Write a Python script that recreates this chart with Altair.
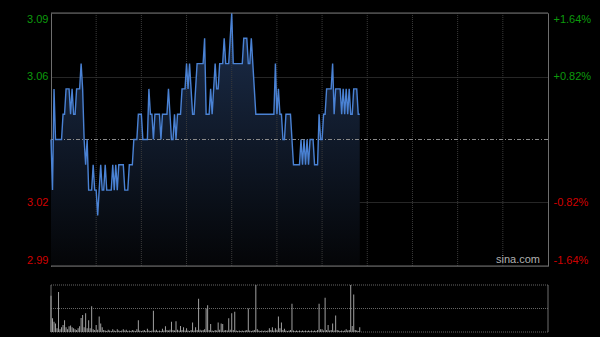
import altair as alt
import pandas as pd

prev_close = 3.04

price = [
    3.04, 3.02, 3.06, 3.04, 3.04, 3.04, 3.04, 3.04, 3.05, 3.05,
    3.06, 3.06, 3.06, 3.05, 3.06, 3.05, 3.05, 3.06, 3.06, 3.06,
    3.07, 3.06, 3.04, 3.03, 3.04, 3.02, 3.02, 3.02, 3.03, 3.02,
    3.02, 3.01, 3.02, 3.03, 3.02, 3.02, 3.03, 3.02, 3.02, 3.02,
    3.02, 3.03, 3.02, 3.03, 3.02, 3.03, 3.03, 3.03, 3.03, 3.02,
    3.02, 3.02, 3.03, 3.03, 3.03, 3.04, 3.04, 3.04, 3.05, 3.05,
    3.05, 3.04, 3.04, 3.04, 3.04, 3.06, 3.05, 3.05, 3.04, 3.05,
    3.05, 3.05, 3.05, 3.04, 3.05, 3.05, 3.05, 3.05, 3.06, 3.05,
    3.04, 3.04, 3.05, 3.04, 3.05, 3.05, 3.05, 3.06, 3.06, 3.06,
    3.07, 3.06, 3.07, 3.06, 3.05, 3.05, 3.06, 3.07, 3.07, 3.07,
    3.07, 3.07, 3.08, 3.05, 3.05, 3.05, 3.06, 3.05, 3.06, 3.07,
    3.06, 3.06, 3.07, 3.07, 3.07, 3.08, 3.07, 3.07, 3.07, 3.08,
    3.09, 3.07, 3.07, 3.07, 3.07, 3.07, 3.07, 3.07, 3.08, 3.08,
    3.08, 3.07, 3.07, 3.08, 3.07, 3.06, 3.05, 3.05, 3.05, 3.05,
    3.05, 3.05, 3.05, 3.05, 3.05, 3.05, 3.05, 3.05, 3.05, 3.07,
    3.05, 3.06, 3.05, 3.05, 3.04, 3.04, 3.05, 3.05, 3.05, 3.05,
    3.04, 3.03, 3.03, 3.03, 3.03, 3.03, 3.04, 3.03, 3.04, 3.03,
    3.04, 3.03, 3.04, 3.04, 3.04, 3.03, 3.03, 3.03, 3.05, 3.04,
    3.04, 3.05, 3.05, 3.06, 3.06, 3.06, 3.06, 3.07, 3.05, 3.06,
    3.06, 3.06, 3.06, 3.05, 3.06, 3.05, 3.06, 3.05, 3.06, 3.05,
    3.05, 3.06, 3.06, 3.06, 3.05, 3.05,
]

volume = [
    77, 29, 22, 18, 8, 85, 6, 10, 15, 25,
    10, 6, 12, 14, 10, 8, 6, 4, 8, 12,
    30, 36, 10, 40, 8, 25, 8, 55, 6, 4,
    15, 5, 33, 18, 10, 4, 3, 2, 5, 3,
    2, 6, 3, 2, 6, 3, 2, 3, 6, 3,
    5, 2, 3, 2, 4, 3, 2, 6, 25, 3,
    2, 3, 4, 2, 7, 3, 2, 3, 45, 3,
    5, 2, 3, 2, 7, 3, 12, 4, 3, 5,
    22, 4, 3, 23, 5, 3, 13, 4, 10, 3,
    8, 3, 2, 4, 20, 3, 10, 4, 71, 5,
    3, 4, 6, 50, 57, 4, 17, 3, 2, 4,
    3, 20, 5, 18, 17, 3, 4, 3, 29, 5,
    40, 4, 43, 3, 2, 3, 2, 3, 2, 3,
    4, 50, 3, 2, 3, 4, 100, 6, 3, 2,
    3, 2, 3, 2, 3, 8, 4, 10, 3, 8,
    5, 33, 8, 20, 4, 7, 3, 2, 3, 4,
    60, 3, 2, 3, 2, 3, 2, 3, 2, 3,
    2, 3, 2, 3, 2, 3, 2, 4, 60, 6,
    6, 3, 73, 4, 15, 3, 4, 18, 3, 35,
    4, 3, 2, 3, 2, 3, 6, 3, 4, 100,
    13, 80, 4, 3, 2, 10,
]

minutes = list(range(len(price)))

session_minutes = [0, 330]
vgrid_minutes = [30, 60, 90, 120, 150, 180, 210, 240, 270, 300]
price_domain = [2.99, 3.09]
price_ticks = [2.9901, 3.0151, 3.0649, 3.0899]
vol_domain = [0, 100]
vol_grid = [0, 50, 100]
watermark = ["sina.com"]

GREEN = "#0c9a0c"
RED = "#d00000"
GRID_H = "#4c4c4c"
GRID_V = "#3a3a3a"
FRAME = "#6e6e6e"
LINE = "#4a82d4"
FONT = "Liberation Sans"

W, H = 497, 319
PRICE_RANGE = [253, 0]
VOL_RANGE = [319, 272]

df = pd.DataFrame({"minute": minutes, "price": price, "volume": volume})
vg_df = pd.DataFrame({"minute": vgrid_minutes})
frame_df = pd.DataFrame({"p": price_domain})
tick_df = pd.DataFrame({"p": price_ticks})
mid_df = pd.DataFrame({"p": [prev_close]})
vgrid_df = pd.DataFrame({"v": vol_grid})
vside_df = pd.DataFrame({"minute": session_minutes})
wm_df = pd.DataFrame({"t": watermark})

x_scale = alt.Scale(domain=session_minutes, nice=False, zero=False, padding=0)
p_scale = alt.Scale(domain=price_domain, range=PRICE_RANGE, nice=False, zero=False)
pct_scale = alt.Scale(domain=price_domain, range=PRICE_RANGE, nice=False, zero=False)
v_scale = alt.Scale(domain=vol_domain, range=VOL_RANGE, nice=False, zero=True)

label_color = {
    "condition": {"test": f"datum.value > {prev_close}", "value": GREEN},
    "value": RED,
}

price_axis = alt.Axis(
    orient="left", values=price_ticks, title=None,
    labelExpr="format(datum.value, '.2f')",
    labelColor=label_color, labelFont=FONT, labelFontSize=11,
    labelPadding=3, labelFlush=True, ticks=False,
    domain=True, domainColor=FRAME,
    grid=True, gridColor=GRID_H, gridDash=[1, 1],
)

pct_axis = alt.Axis(
    orient="right", values=price_ticks, title=None,
    labelExpr=f"(datum.value > {prev_close} ? '+' : '-') + format(abs(datum.value / {prev_close} - 1) * 100, '.2f') + '%'",
    labelColor=label_color, labelFont=FONT, labelFontSize=11,
    labelPadding=5, labelFlush=True, ticks=False,
    domain=True, domainColor=FRAME, grid=False,
)

X = alt.X("minute:Q", scale=x_scale, axis=None)

area = alt.Chart(df).mark_area(
    color=alt.Gradient(
        gradient="linear",
        stops=[alt.GradientStop(color="#1c2e4c", offset=0),
               alt.GradientStop(color="#040507", offset=1)],
        x1=1, x2=1, y1=0, y2=1,
    )
).encode(
    x=X,
    y=alt.Y("price:Q", scale=p_scale, axis=price_axis),
    y2=alt.datum(price_domain[0]),
)

vgrid = alt.Chart(vg_df).mark_rule(color=GRID_V, strokeDash=[1, 1], strokeWidth=1).encode(
    x=X,
    y=alt.YDatum(price_domain[0], scale=p_scale, axis=price_axis),
    y2=alt.datum(price_domain[1]),
)

mid = alt.Chart(mid_df).mark_rule(color="#8a8a8a", strokeDash=[4, 2, 1, 2], strokeWidth=1).encode(
    y=alt.Y("p:Q", scale=p_scale, axis=price_axis),
)

line = alt.Chart(df).mark_line(color=LINE, strokeWidth=1.4).encode(
    x=X,
    y=alt.Y("price:Q", scale=p_scale, axis=price_axis),
)

frame = alt.Chart(frame_df).mark_rule(color=FRAME, strokeWidth=1).encode(
    y=alt.Y("p:Q", scale=p_scale, axis=price_axis),
)

wm = alt.Chart(wm_df).mark_text(font=FONT, fontSize=11, color="#b0b0b0").encode(
    text="t:N", x=alt.value(467), y=alt.value(247),
)

price_layer = alt.layer(area, vgrid, mid, line, frame, wm)

pct_layer = alt.Chart(tick_df).mark_rule(opacity=0).encode(
    y=alt.Y("p:Q", scale=pct_scale, axis=pct_axis),
)

bars = alt.Chart(df).mark_bar(width=1, color="#a0a0a0").encode(
    x=X,
    y=alt.Y("volume:Q", scale=v_scale, axis=None),
)

vgrid_lines = alt.Chart(vgrid_df).mark_rule(color="#666666", strokeDash=[1, 1]).encode(
    y=alt.Y("v:Q", scale=v_scale, axis=None),
)

vsides = alt.Chart(vside_df).mark_rule(color=FRAME).encode(
    x=X,
    y=alt.YDatum(vol_domain[0], scale=v_scale, axis=None),
    y2=alt.datum(vol_domain[1]),
)

vol_layer = alt.layer(vgrid_lines, vsides, bars)

chart = alt.layer(price_layer, pct_layer, vol_layer).resolve_scale(
    y="independent"
).properties(
    width=W, height=H,
    autosize=alt.AutoSizeParams(type="none"),
    padding={"left": 51, "top": 13, "right": 52, "bottom": 5},
    background="#000000",
).configure_view(stroke=None)

chart.save("out.html", embed_options={"renderer": "svg", "actions": False})
